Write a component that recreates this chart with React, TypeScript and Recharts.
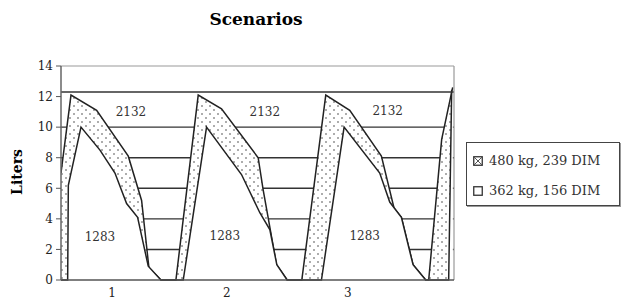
import { AreaChart, Area, XAxis, YAxis, CartesianGrid, ReferenceLine, ReferenceDot } from "recharts";

// days since start of the window, liters per day
const heavyCow = [
  { x: 0, y: 7.0 }, { x: 30, y: 12.1 }, { x: 107, y: 11.1 }, { x: 202, y: 8.1 },
  { x: 242, y: 5.2 }, { x: 264, y: 0.8 }, { x: 300, y: 0 },
  { x: 345, y: 0 }, { x: 412, y: 12.1 }, { x: 482, y: 11.2 }, { x: 592, y: 8.0 },
  { x: 607, y: 5.9 }, { x: 621, y: 4.2 }, { x: 647, y: 1.0 }, { x: 679, y: 0 },
  { x: 723, y: 0 }, { x: 795, y: 12.1 }, { x: 867, y: 11.1 }, { x: 962, y: 8.1 },
  { x: 1000, y: 4.7 }, { x: 1022, y: 4.1 }, { x: 1057, y: 1.0 }, { x: 1095, y: 0 },
  { x: 1104, y: 0 }, { x: 1143, y: 9.2 }, { x: 1176, y: 12.6 },
];

const lightCow = [
  { x: 0, y: 0 }, { x: 20, y: 0 }, { x: 22, y: 6.2 }, { x: 60, y: 10.0 }, { x: 117, y: 8.5 },
  { x: 162, y: 7.0 }, { x: 197, y: 5.0 }, { x: 230, y: 4.1 }, { x: 262, y: 0.9 }, { x: 300, y: 0 },
  { x: 367, y: 0 }, { x: 437, y: 10.0 }, { x: 542, y: 6.9 }, { x: 597, y: 4.4 },
  { x: 627, y: 3.3 }, { x: 648, y: 1.0 }, { x: 679, y: 0 },
  { x: 782, y: 0 }, { x: 850, y: 10.0 }, { x: 957, y: 7.0 }, { x: 987, y: 5.1 },
  { x: 1022, y: 4.1 }, { x: 1057, y: 1.0 }, { x: 1095, y: 0 },
  { x: 1164, y: 0 }, { x: 1173, y: 12.4 }, { x: 1176, y: 12.4 },
];

const heavyTotals = [
  { x: 210, y: 11.0, text: "2132" },
  { x: 612, y: 11.0, text: "2132" },
  { x: 981, y: 11.1, text: "2132" },
];
const lightTotals = [
  { x: 117, y: 2.8, text: "1283" },
  { x: 492, y: 2.9, text: "1283" },
  { x: 912, y: 2.9, text: "1283" },
];

const xTickPositions = [153, 498, 861];
const xTickLabels = ["1", "2", "3"];
const yTicks = [0, 2, 4, 6, 8, 10, 12, 14];
const gridValues = [2, 4, 6, 8, 10];

const FONT = "'DejaVu Serif', serif";

function App() {
  return (
    <div style={{ position: "absolute", left: 0, top: 0, width: 621, height: 300, fontFamily: FONT }}>
      <div style={{ position: "absolute", left: 0, width: 512, top: 9, textAlign: "center", fontSize: 17, fontWeight: "bold" }}>
        Scenarios
      </div>
      <div
        style={{
          position: "absolute", left: 17, top: 172, transform: "translate(-50%, -50%) rotate(-90deg)",
          fontSize: 14, fontWeight: "bold", whiteSpace: "nowrap",
        }}
      >
        Liters
      </div>
      <AreaChart width={621} height={300} margin={{ top: 66, right: 167, bottom: 2, left: 0 }}>
        <defs>
          <pattern id="dots" width="8" height="8" patternUnits="userSpaceOnUse">
            <rect width="8" height="8" fill="#fff" />
            <circle cx="2" cy="2" r="0.8" fill="#444" />
            <circle cx="6" cy="6" r="0.8" fill="#444" />
          </pattern>
        </defs>
        <CartesianGrid vertical={false} horizontalValues={gridValues} stroke="#333" strokeWidth={1.4} />
        <XAxis
          type="number"
          dataKey="x"
          domain={[0, 1180]}
          ticks={xTickPositions}
          tickFormatter={(v: number) => xTickLabels[xTickPositions.indexOf(v)]}
          tickLine={false}
          axisLine={{ stroke: "#555", strokeWidth: 1.5 }}
          tick={{ fill: "#222", fontSize: 12, fontFamily: FONT }}
          height={18}
          allowDataOverflow
        />
        <YAxis
          domain={[0, 14]}
          ticks={yTicks}
          width={61}
          tickSize={5}
          tickMargin={3}
          axisLine={{ stroke: "#666", strokeWidth: 1.5 }}
          tickLine={{ stroke: "#555" }}
          tick={{ fill: "#222", fontSize: 12, fontFamily: FONT }}
        />
        <Area
          data={heavyCow}
          dataKey="y"
          type="linear"
          stroke="#222"
          strokeWidth={1.5}
          fill="url(#dots)"
          fillOpacity={1}
          isAnimationActive={false}
          dot={false}
          activeDot={false}
        />
        <Area
          data={lightCow}
          dataKey="y"
          type="linear"
          stroke="#222"
          strokeWidth={1.5}
          fill="#fff"
          fillOpacity={1}
          isAnimationActive={false}
          dot={false}
          activeDot={false}
        />
        <ReferenceLine y={12.3} stroke="#333" strokeWidth={1.6} />
        <ReferenceLine y={14} stroke="#999" strokeWidth={1.2} />
        <ReferenceLine x={1180} stroke="#999" strokeWidth={1.2} />
        {heavyTotals.map((d, i) => (
          <ReferenceDot
            key={"h" + i}
            x={d.x}
            y={d.y}
            r={0}
            stroke="none"
            label={{ value: d.text, position: "center", fill: "#333", fontSize: 12, fontFamily: FONT }}
          />
        ))}
        {lightTotals.map((d, i) => (
          <ReferenceDot
            key={"l" + i}
            x={d.x}
            y={d.y}
            r={0}
            stroke="none"
            label={{ value: d.text, position: "center", fill: "#333", fontSize: 12, fontFamily: FONT }}
          />
        ))}
      </AreaChart>
      <div
        style={{
          position: "absolute", left: 466, top: 142, width: 152, height: 62,
          border: "1.5px solid #444", boxShadow: "1px 1px 0 #999", background: "#fff",
          fontSize: 13, color: "#333",
        }}
      >
        <div style={{ position: "absolute", left: 6, top: 10, display: "flex", alignItems: "center", whiteSpace: "nowrap" }}>
          <svg width="10" height="10" style={{ marginRight: 6 }}>
            <rect x="0.75" y="0.75" width="8.5" height="8.5" fill="#fff" stroke="#333" strokeWidth="1.3" />
            <line x1="1" y1="1" x2="9" y2="9" stroke="#555" strokeWidth="1" />
            <line x1="9" y1="1" x2="1" y2="9" stroke="#555" strokeWidth="1" />
          </svg>
          480 kg, 239 DIM
        </div>
        <div style={{ position: "absolute", left: 6, top: 40, display: "flex", alignItems: "center", whiteSpace: "nowrap" }}>
          <svg width="10" height="10" style={{ marginRight: 6 }}>
            <rect x="0.75" y="0.75" width="8.5" height="8.5" fill="#fff" stroke="#333" strokeWidth="1.3" />
          </svg>
          362 kg, 156 DIM
        </div>
      </div>
    </div>
  );
}

export default App;
